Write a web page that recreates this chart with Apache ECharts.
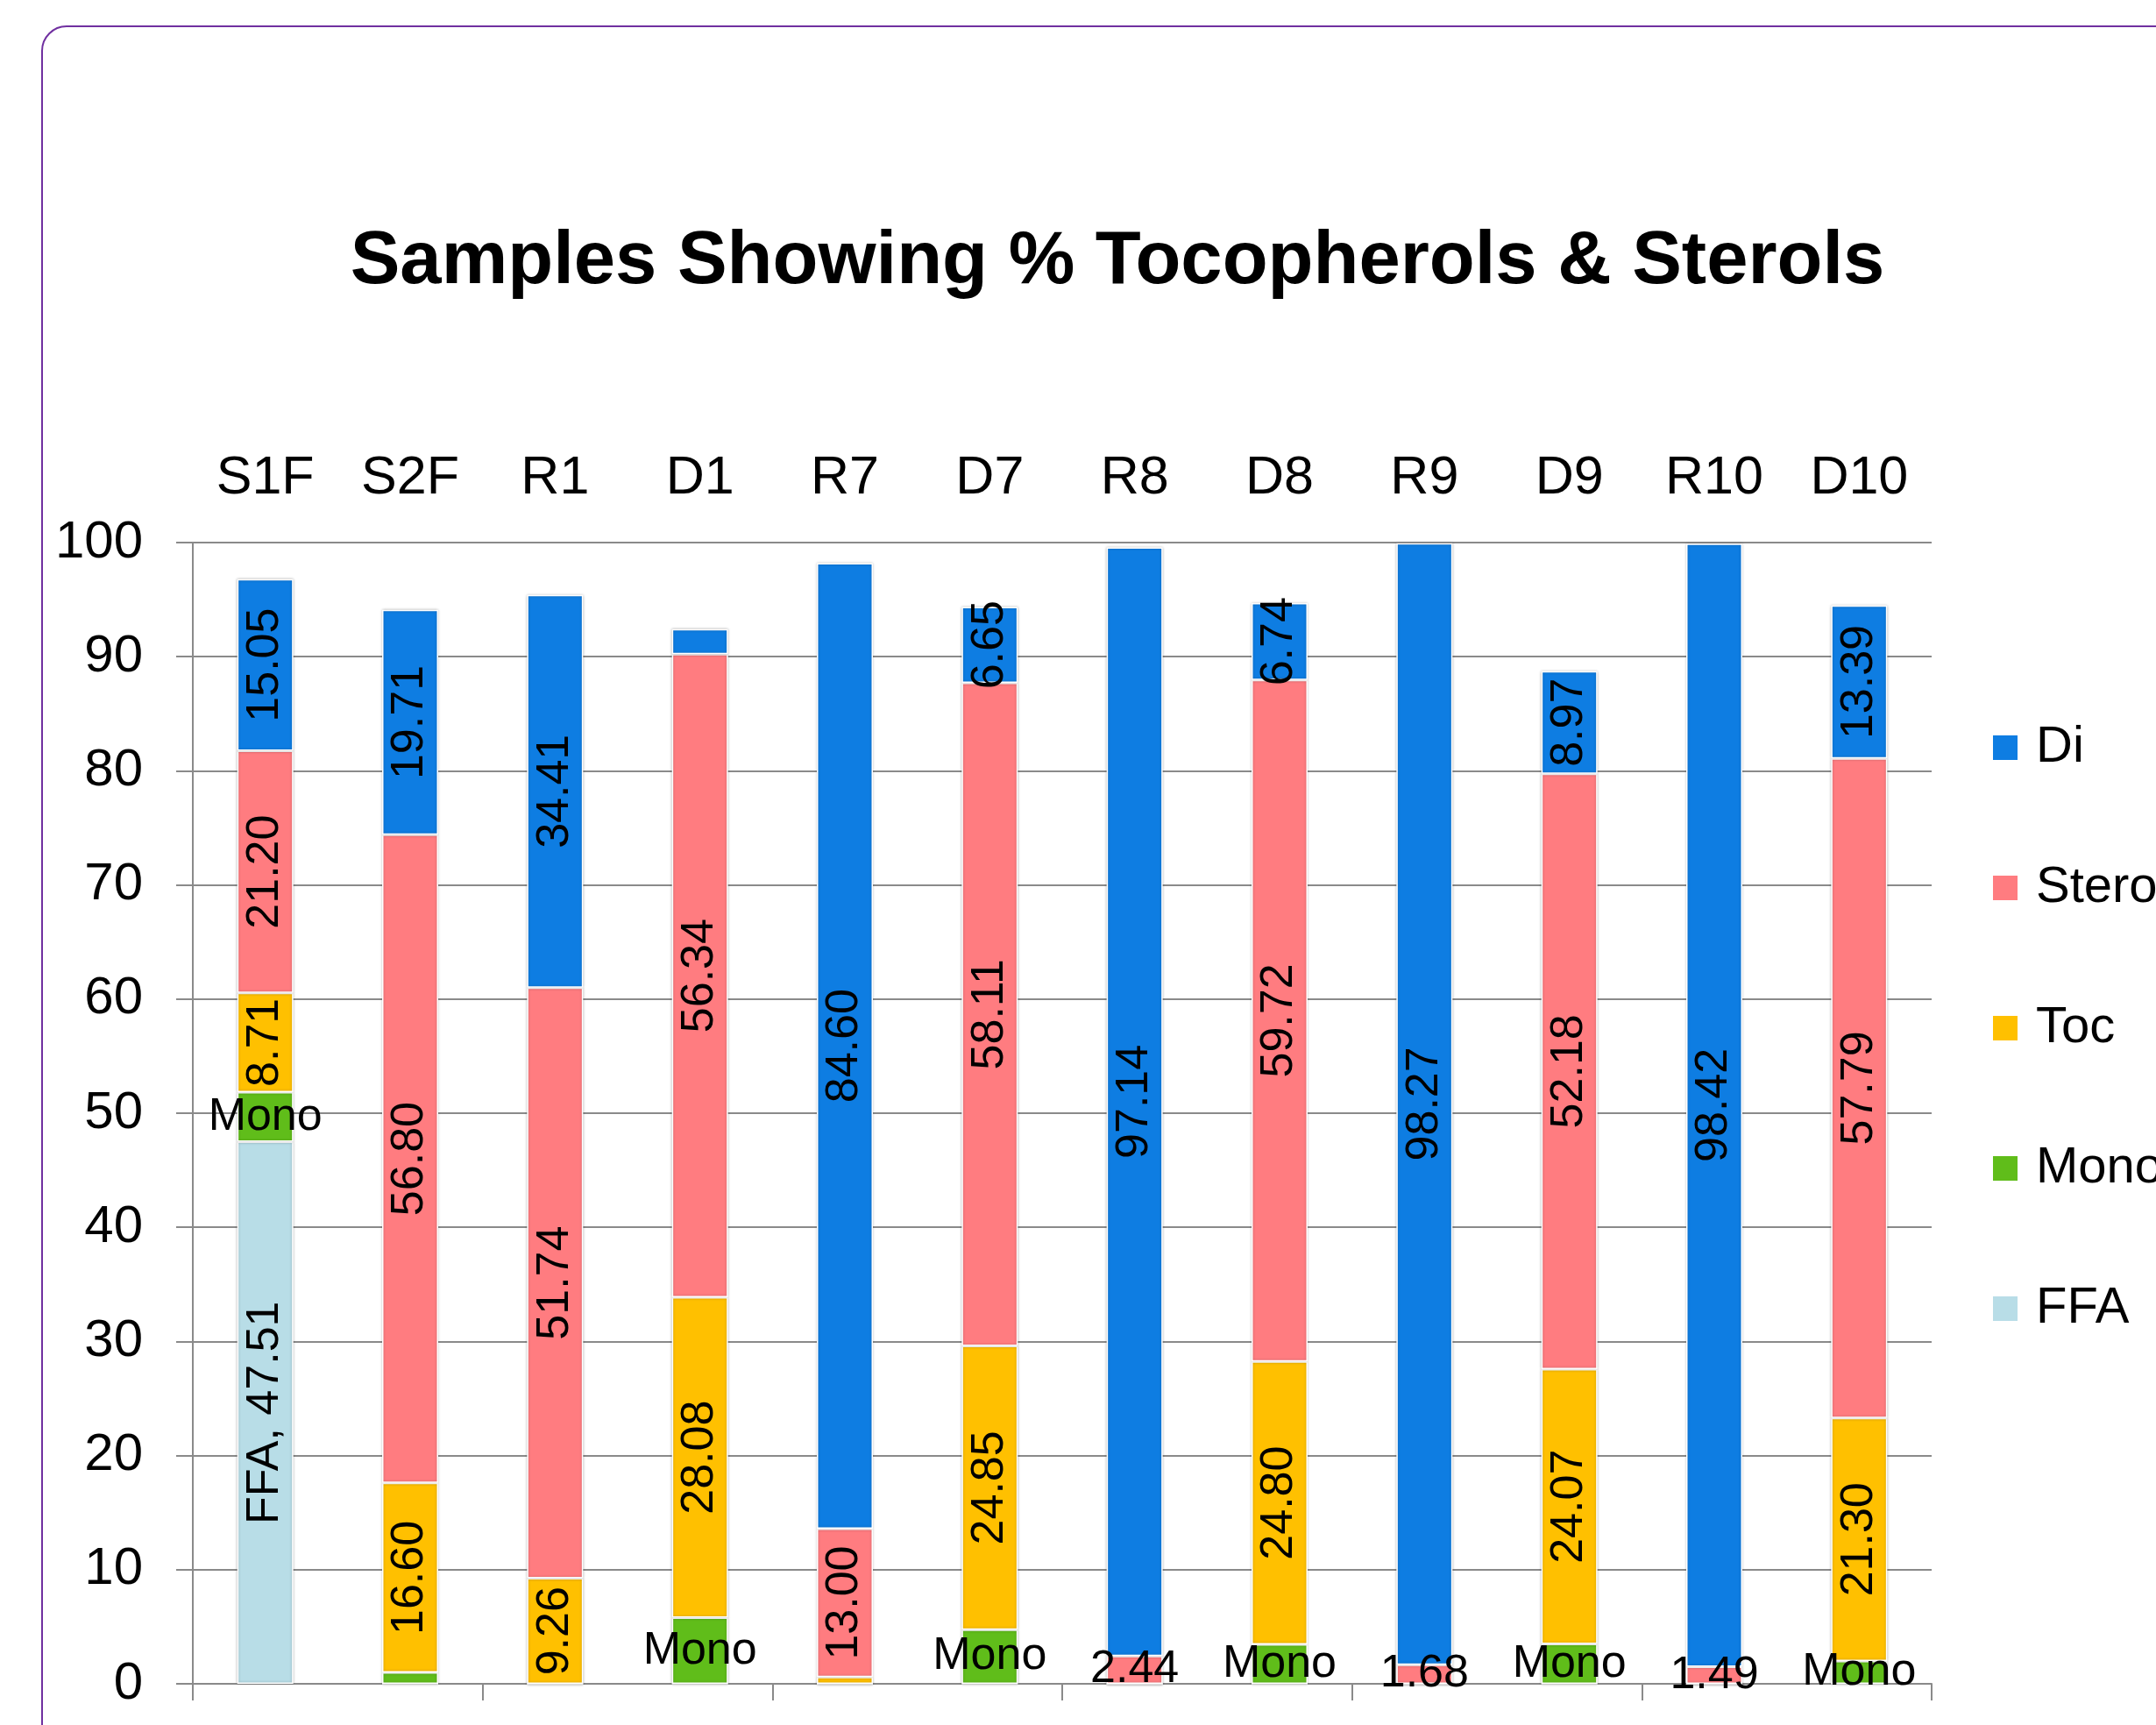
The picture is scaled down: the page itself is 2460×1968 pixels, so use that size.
<!DOCTYPE html>
<html lang="en">
<head>
    <meta charset="UTF-8">
    <title>Samples Showing % Tocopherols &amp; Sterols</title>
    <script src="https://cdn.jsdelivr.net/npm/echarts@6.0.0/dist/echarts.min.js"></script>
    <style>
        html, body { margin: 0; padding: 0; background: #fff; }
        #main { width: 2460px; height: 1968px; }
    </style>
</head>
<body>
<div id="main"></div>
<script type="text/javascript">
    // chart values (percent)
    var samples = ['S1F', 'S2F', 'R1', 'D1', 'R7', 'D7', 'R8', 'D8', 'R9', 'D9', 'R10', 'D10'];
    var ffa     = [47.51, 0, 0, 0, 0, 0, 0, 0, 0, 0, 0, 0];
    var mono    = [4.33, 1.00, 0, 5.80, 0, 4.75, 0, 3.45, 0, 3.50, 0, 2.00];
    var toc     = [8.71, 16.60, 9.26, 28.08, 0.60, 24.85, 0, 24.80, 0, 24.07, 0, 21.30];
    var sterols = [21.20, 56.80, 51.74, 56.34, 13.00, 58.11, 2.44, 59.72, 1.68, 52.18, 1.49, 57.79];
    var di      = [15.05, 19.71, 34.41, 2.20, 84.60, 6.65, 97.14, 6.74, 98.27, 8.97, 98.42, 13.39];
    var yTicks  = [0, 100, 10];   // min, max, step

    var font = 'Liberation Sans, Arial, sans-serif';
    var grey = '#8a8a8a';

    var myChart = echarts.init(document.getElementById('main'));

    function labelOf(minShow, rot, fmt) {
        return {
            show: true,
            position: 'inside',
            rotate: rot,
            color: '#000',
            fontFamily: font,
            fontSize: 52,
            formatter: function (p) {
                if (p.value < minShow) return '';
                return fmt ? fmt(p) : p.value.toFixed(2);
            }
        };
    }

    function barStyle(color) {
        return {
            color: color,
            borderColor: '#fff',
            borderWidth: 1.5,
            shadowColor: 'rgba(0,0,0,0.25)',
            shadowBlur: 3
        };
    }

    var option = {
        backgroundColor: '#fff',
        animation: false,
        title: {
            text: 'Samples Showing % Tocopherols & Sterols',
            left: 1275,
            top: 300,
            padding: 0,
            textAlign: 'center',
            textVerticalAlign: 'middle',
            textStyle: {
                fontFamily: font,
                fontSize: 85,
                fontWeight: 'bold',
                color: '#000'
            }
        },
        graphic: [
            {
                type: 'rect',
                z: -10,
                shape: { x: 48, y: 30, width: 2700, height: 2200, r: 28 },
                style: { fill: 'none', stroke: '#7030A0', lineWidth: 2 }
            }
        ],
        legend: {
            orient: 'vertical',
            left: 2272,
            top: 823,
            padding: 0,
            itemWidth: 30,
            itemHeight: 30,
            itemGap: 100,
            icon: 'rect',
            data: ['Di', 'Sterols', 'Toc', 'Mono', 'FFA'],
            textStyle: {
                fontFamily: font,
                fontSize: 58,
                lineHeight: 60,
                color: '#000',
                padding: [0, 0, 0, 15]
            }
        },
        grid: {
            left: 220,
            right: 256,
            top: 619,
            bottom: 47
        },
        xAxis: [
            {
                type: 'category',
                data: samples,
                position: 'bottom',
                axisLine: { show: true, lineStyle: { color: grey, width: 2 } },
                axisTick: { show: true, interval: 1, length: 19, lineStyle: { color: grey, width: 2 } },
                axisLabel: { show: false }
            },
            {
                type: 'category',
                data: samples,
                position: 'top',
                axisLine: { show: false },
                axisTick: { show: false },
                axisLabel: {
                    show: true,
                    margin: 42,
                    fontFamily: font,
                    fontSize: 61,
                    color: '#000'
                }
            }
        ],
        yAxis: {
            type: 'value',
            min: yTicks[0],
            max: yTicks[1],
            interval: yTicks[2],
            axisLine: { show: true, lineStyle: { color: grey, width: 2 } },
            axisTick: { show: true, length: 19, lineStyle: { color: grey, width: 2 } },
            splitLine: { show: true, lineStyle: { color: grey, width: 2 } },
            axisLabel: {
                margin: 57,
                fontFamily: font,
                fontSize: 60,
                color: '#000'
            }
        },
        series: [
            {
                name: 'FFA',
                type: 'bar',
                stack: 'all',
                barWidth: 64,
                data: ffa,
                itemStyle: barStyle('#B8DDE7'),
                label: labelOf(1, 90, function (p) { return 'FFA, ' + p.value.toFixed(2); })
            },
            {
                name: 'Mono',
                type: 'bar',
                stack: 'all',
                barWidth: 64,
                data: mono,
                itemStyle: barStyle('#60BD1A'),
                label: labelOf(1.5, 0, function () { return 'Mono'; })
            },
            {
                name: 'Toc',
                type: 'bar',
                stack: 'all',
                barWidth: 64,
                data: toc,
                itemStyle: barStyle('#FFC000'),
                label: labelOf(1, 90)
            },
            {
                name: 'Sterols',
                type: 'bar',
                stack: 'all',
                barWidth: 64,
                data: sterols.map(function (v) {
                    return v < 5 ? { value: v, label: { rotate: 0 } } : v;
                }),
                itemStyle: barStyle('#FF7C80'),
                label: labelOf(1, 90)
            },
            {
                name: 'Di',
                type: 'bar',
                stack: 'all',
                barWidth: 64,
                data: di,
                itemStyle: barStyle('#0E7DE2'),
                label: labelOf(3, 90)
            }
        ]
    };
    myChart.setOption(option);
</script>
</body>
</html>
